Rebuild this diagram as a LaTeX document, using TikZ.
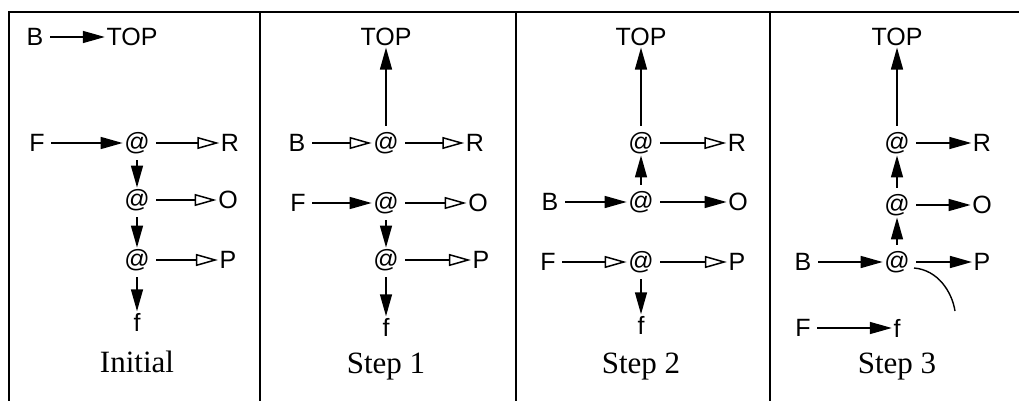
\documentclass[tikz,border=0pt]{standalone}
\usepackage{fontspec}
\newfontfamily\nodefont{Liberation Sans}
\newfontfamily\capfont{Liberation Serif}
\usetikzlibrary{arrows.meta}

\tikzset{
  lbl/.style={font=\nodefont\fontsize{25}{27}\selectfont, inner sep=1.5pt},
  caption/.style={font=\capfont\fontsize{31}{34}\selectfont, anchor=base, inner sep=0pt},
  full/.style={-{Triangle[length=22pt,width=12pt]}, line width=1.5pt, shorten <=5pt},
  hollow/.style={-{Triangle[open,length=22pt,width=12pt]}, line width=1.5pt, shorten <=5pt},
  frame/.style={line width=2pt}
}

\begin{document}
\begin{tikzpicture}[x=1pt, y=-1pt]
  \useasboundingbox (0,0) rectangle (1019,401);

  % frame
  \draw[frame] (9,401) -- (9,12) -- (1019,12);
  \draw[frame] (260,12) -- (260,401);
  \draw[frame] (516,12) -- (516,401);
  \draw[frame] (770,12) -- (770,401);

  % Initial
  \node[lbl] (iB) at (35,37) {B};
  \node[lbl] (iTop) at (132,37) {TOP};
  \node[lbl] (iF) at (37,143) {F};
  \node[lbl] (iA1) at (137,143) {@};
  \node[lbl] (iR) at (230,143) {R};
  \node[lbl] (iA2) at (137,200) {@};
  \node[lbl] (iO) at (228,200) {O};
  \node[lbl] (iA3) at (137,260) {@};
  \node[lbl] (iP) at (228,260) {P};
  \node[lbl] (if) at (137,322) {f};
  \node[caption] (iCap) at (137,372) {Initial};
  \draw[full] (iB) -- (iTop);
  \draw[full] (iF) -- (iA1);
  \draw[hollow] (iA1) -- (iR);
  \draw[full] (iA1) -- (iA2);
  \draw[hollow] (iA2) -- (iO);
  \draw[full] (iA2) -- (iA3);
  \draw[hollow] (iA3) -- (iP);
  \draw[full] (iA3) -- (if);

  % Step 1
  \node[lbl] (aTop) at (386,37) {TOP};
  \node[lbl] (aB) at (297,143) {B};
  \node[lbl] (aA1) at (386,143) {@};
  \node[lbl] (aR) at (475,143) {R};
  \node[lbl] (aF) at (298,203) {F};
  \node[lbl] (aA2) at (386,203) {@};
  \node[lbl] (aO) at (478,203) {O};
  \node[lbl] (aA3) at (386,260) {@};
  \node[lbl] (aP) at (481,260) {P};
  \node[lbl] (af) at (386,327) {f};
  \node[caption] (aCap) at (386,373) {Step 1};
  \draw[full] (aA1) -- (aTop);
  \draw[hollow] (aB) -- (aA1);
  \draw[hollow] (aA1) -- (aR);
  \draw[full] (aF) -- (aA2);
  \draw[hollow] (aA2) -- (aO);
  \draw[full] (aA2) -- (aA3);
  \draw[hollow] (aA3) -- (aP);
  \draw[full] (aA3) -- (af);

  % Step 2
  \node[lbl] (bTop) at (641,37) {TOP};
  \node[lbl] (bA1) at (641,143) {@};
  \node[lbl] (bR) at (737,143) {R};
  \node[lbl] (bB) at (550,202) {B};
  \node[lbl] (bA2) at (641,202) {@};
  \node[lbl] (bO) at (738,202) {O};
  \node[lbl] (bF) at (548,262) {F};
  \node[lbl] (bA3) at (641,262) {@};
  \node[lbl] (bP) at (737,262) {P};
  \node[lbl] (bf) at (641,325) {f};
  \node[caption] (bCap) at (641,373) {Step 2};
  \draw[full] (bA1) -- (bTop);
  \draw[hollow] (bA1) -- (bR);
  \draw[full] (bA2) -- (bA1);
  \draw[full] (bB) -- (bA2);
  \draw[full] (bA2) -- (bO);
  \draw[hollow] (bF) -- (bA3);
  \draw[hollow] (bA3) -- (bP);
  \draw[full] (bA3) -- (bf);

  % Step 3
  \node[lbl] (cTop) at (897,37) {TOP};
  \node[lbl] (cA1) at (897,143) {@};
  \node[lbl] (cR) at (982,143) {R};
  \node[lbl] (cA2) at (897,205) {@};
  \node[lbl] (cO) at (982,205) {O};
  \node[lbl] (cB) at (803,262) {B};
  \node[lbl] (cA3) at (897,262) {@};
  \node[lbl] (cP) at (982,262) {P};
  \node[lbl] (cF) at (803,328) {F};
  \node[lbl] (cf) at (897,328) {f};
  \node[caption] (cCap) at (897,373) {Step 3};
  \draw[full] (cA1) -- (cTop);
  \draw[full] (cA1) -- (cR);
  \draw[full] (cA2) -- (cA1);
  \draw[full] (cA2) -- (cO);
  \draw[full] (cA3) -- (cA2);
  \draw[full] (cB) -- (cA3);
  \draw[full] (cA3) -- (cP);
  \draw[full] (cF) -- (cf);
  \coordinate (cutA) at (914,268);
  \coordinate (cutB) at (955,311);
  \draw[line width=1.4pt] (cutA) .. controls (938,270) and (952,292) .. (cutB);
\end{tikzpicture}
\end{document}
